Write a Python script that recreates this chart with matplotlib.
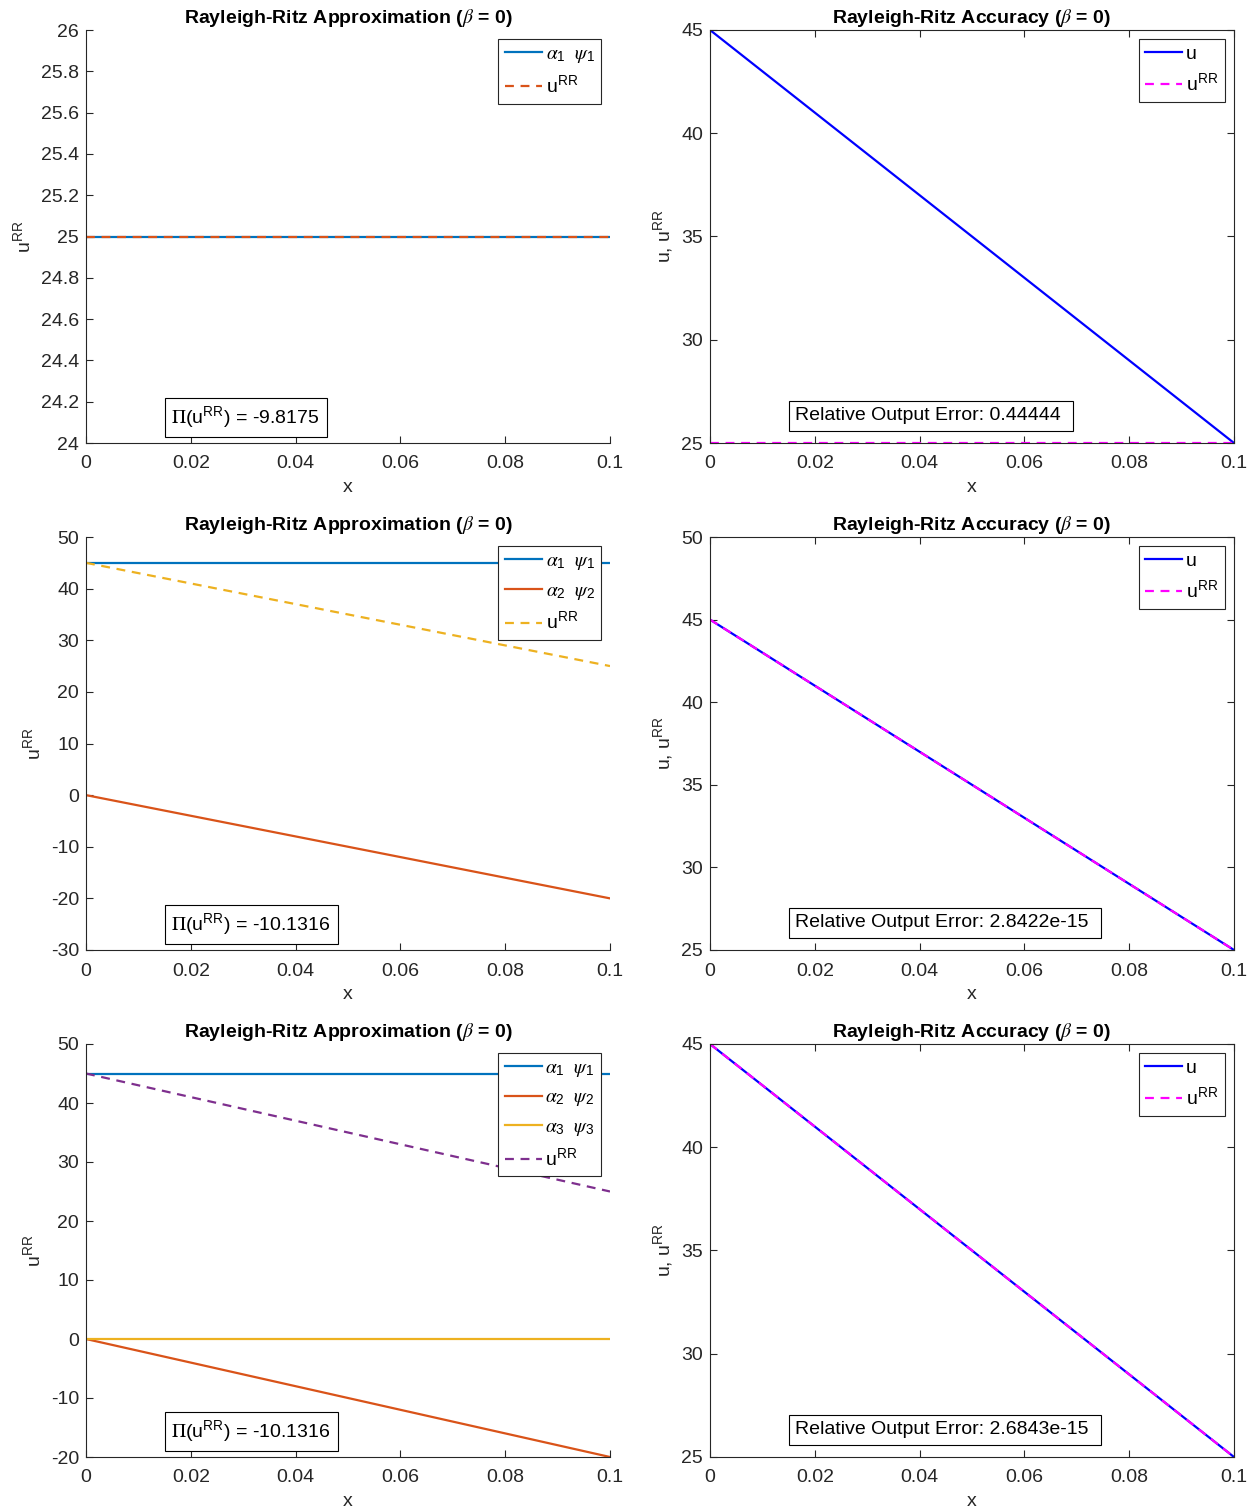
import numpy as np
import matplotlib
matplotlib.use("Agg")
import matplotlib.pyplot as plt

plt.rcParams['font.family'] = ['Liberation Sans', 'DejaVu Sans']
plt.rcParams['mathtext.fontset'] = 'stix'
plt.rcParams['axes.unicode_minus'] = False
plt.rcParams['axes.linewidth'] = 0.8
plt.rcParams['xtick.direction'] = 'in'
plt.rcParams['ytick.direction'] = 'in'

# ---- data (end points of the straight lines) ----
x = [0.0, 0.1]

# row 1 (one basis function)
r1_a1psi1 = [25.0, 25.0]
r1_urr = [25.0, 25.0]
r1_u = [45.0, 25.0]
r1_pi = "-9.8175"
r1_err = "0.44444"

# row 2 (two basis functions)
r2_a1psi1 = [45.0, 45.0]
r2_a2psi2 = [0.0, -20.0]
r2_urr = [45.0, 25.0]
r2_u = [45.0, 25.0]
r2_pi = "-10.1316"
r2_err = "2.8422e-15"

# row 3 (three basis functions)
r3_a1psi1 = [45.0, 45.0]
r3_a2psi2 = [0.0, -20.0]
r3_a3psi3 = [0.0, 0.0]
r3_urr = [45.0, 25.0]
r3_u = [45.0, 25.0]
r3_pi = "-10.1316"
r3_err = "2.6843e-15"

xticks = [0, 0.02, 0.04, 0.06, 0.08, 0.1]
xticklabels = ['0', '0.02', '0.04', '0.06', '0.08', '0.1']

c_blue = '#0072BD'
c_orange = '#D95319'
c_yellow = '#EDB120'
c_purple = '#7E2F8E'

axcol = '#262626'
fs = 14

fig = plt.figure(figsize=(12.54, 15.08), dpi=100)

W = 1254.0
H = 1508.0
def make_ax(left_px, top_px, box):
    ax = fig.add_axes([left_px / W, 1 - (top_px + 413) / H, 524 / W, 413 / H])
    for s in ax.spines.values():
        s.set_color(axcol)
    if not box:
        ax.spines['top'].set_visible(False)
        ax.spines['right'].set_visible(False)
    else:
        ax.tick_params(top=True, right=True)
    ax.tick_params(labelsize=fs, colors=axcol, length=5, width=0.8)
    ax.tick_params(axis='x', pad=9)
    ax.tick_params(axis='y', pad=5)
    ax.set_xlim(0, 0.1)
    ax.set_xticks(xticks)
    ax.set_xticklabels(xticklabels)
    ax.set_xlabel('x', fontsize=fs, color=axcol, labelpad=5)
    return ax

def alpha_lbl(i):
    return r'$\alpha_{\mathregular{%d}}\ \ \psi_{\mathregular{%d}}$' % (i, i)

def pi_box(ax, val):
    ax.text(0.163, 0.03, r'$\Pi$(u$^{\mathregular{RR}}$) = ' + val + ' ', transform=ax.transAxes,
            fontsize=fs, va='bottom', ha='left',
            bbox=dict(boxstyle='square,pad=0.35', fc='white', ec='black', lw=0.8))

def err_box(ax, val):
    ax.text(0.163, 0.045, 'Relative Output Error: ' + val + ' ', transform=ax.transAxes,
            fontsize=fs, va='bottom', ha='left',
            bbox=dict(boxstyle='square,pad=0.35', fc='white', ec='black', lw=0.8))

def legend(ax):
    lg = ax.legend(loc='upper right', fontsize=fs, fancybox=False, framealpha=1,
                   edgecolor=axcol, handlelength=1.9, handletextpad=0.2,
                   borderpad=0.35, labelspacing=0.5, borderaxespad=0.45)
    lg.get_frame().set_linewidth(0.8)

t_left = r'Rayleigh-Ritz Approximation ($\beta$ = 0)'
t_right = r'Rayleigh-Ritz Accuracy ($\beta$ = 0)'
urr = r'u$^{\mathregular{RR}}$'
lw = 1.6
tops = [30, 537, 1044]

# ---- row 1 ----
ax = make_ax(86, tops[0], False)
ax.plot(x, r1_a1psi1, color=c_blue, lw=lw, label=alpha_lbl(1))
ax.plot(x, r1_urr, color=c_orange, lw=lw, ls=(0, (4, 3)), label=urr)
ax.set_ylim(24, 26)
ax.set_yticks(np.arange(24, 26.01, 0.2))
ax.set_yticklabels(['24', '24.2', '24.4', '24.6', '24.8', '25', '25.2', '25.4', '25.6', '25.8', '26'])
ax.set_ylabel(urr, fontsize=fs, color=axcol)
ax.set_title(t_left, fontsize=fs, fontweight='bold', pad=5)
legend(ax)
pi_box(ax, r1_pi)

ax = make_ax(710, tops[0], True)
ax.plot(x, r1_u, color='blue', lw=lw, label='u')
ax.plot(x, r1_urr, color='magenta', lw=lw, ls=(0, (4, 3)), label=urr)
ax.set_ylim(25, 45)
ax.set_yticks([25, 30, 35, 40, 45])
ax.set_ylabel('u, ' + urr, fontsize=fs, color=axcol)
ax.set_title(t_right, fontsize=fs, fontweight='bold', pad=5)
legend(ax)
err_box(ax, r1_err)

# ---- row 2 ----
ax = make_ax(86, tops[1], False)
ax.plot(x, r2_a1psi1, color=c_blue, lw=lw, label=alpha_lbl(1))
ax.plot(x, r2_a2psi2, color=c_orange, lw=lw, label=alpha_lbl(2))
ax.plot(x, r2_urr, color=c_yellow, lw=lw, ls=(0, (4, 3)), label=urr)
ax.set_ylim(-30, 50)
ax.set_yticks(np.arange(-30, 51, 10))
ax.set_ylabel(urr, fontsize=fs, color=axcol)
ax.set_title(t_left, fontsize=fs, fontweight='bold', pad=5)
legend(ax)
pi_box(ax, r2_pi)

ax = make_ax(710, tops[1], True)
ax.plot(x, r2_u, color='blue', lw=lw, label='u')
ax.plot(x, r2_urr, color='magenta', lw=lw, ls=(0, (4, 3)), label=urr)
ax.set_ylim(25, 50)
ax.set_yticks([25, 30, 35, 40, 45, 50])
ax.set_ylabel('u, ' + urr, fontsize=fs, color=axcol)
ax.set_title(t_right, fontsize=fs, fontweight='bold', pad=5)
legend(ax)
err_box(ax, r2_err)

# ---- row 3 ----
ax = make_ax(86, tops[2], False)
ax.plot(x, r3_a1psi1, color=c_blue, lw=lw, label=alpha_lbl(1))
ax.plot(x, r3_a2psi2, color=c_orange, lw=lw, label=alpha_lbl(2))
ax.plot(x, r3_a3psi3, color=c_yellow, lw=lw, label=alpha_lbl(3))
ax.plot(x, r3_urr, color=c_purple, lw=lw, ls=(0, (4, 3)), label=urr)
ax.set_ylim(-20, 50)
ax.set_yticks(np.arange(-20, 51, 10))
ax.set_ylabel(urr, fontsize=fs, color=axcol)
ax.set_title(t_left, fontsize=fs, fontweight='bold', pad=5)
legend(ax)
pi_box(ax, r3_pi)

ax = make_ax(710, tops[2], True)
ax.plot(x, r3_u, color='blue', lw=lw, label='u')
ax.plot(x, r3_urr, color='magenta', lw=lw, ls=(0, (4, 3)), label=urr)
ax.set_ylim(25, 45)
ax.set_yticks([25, 30, 35, 40, 45])
ax.set_ylabel('u, ' + urr, fontsize=fs, color=axcol)
ax.set_title(t_right, fontsize=fs, fontweight='bold', pad=5)
legend(ax)
err_box(ax, r3_err)

fig.savefig('out.png', dpi=100)
